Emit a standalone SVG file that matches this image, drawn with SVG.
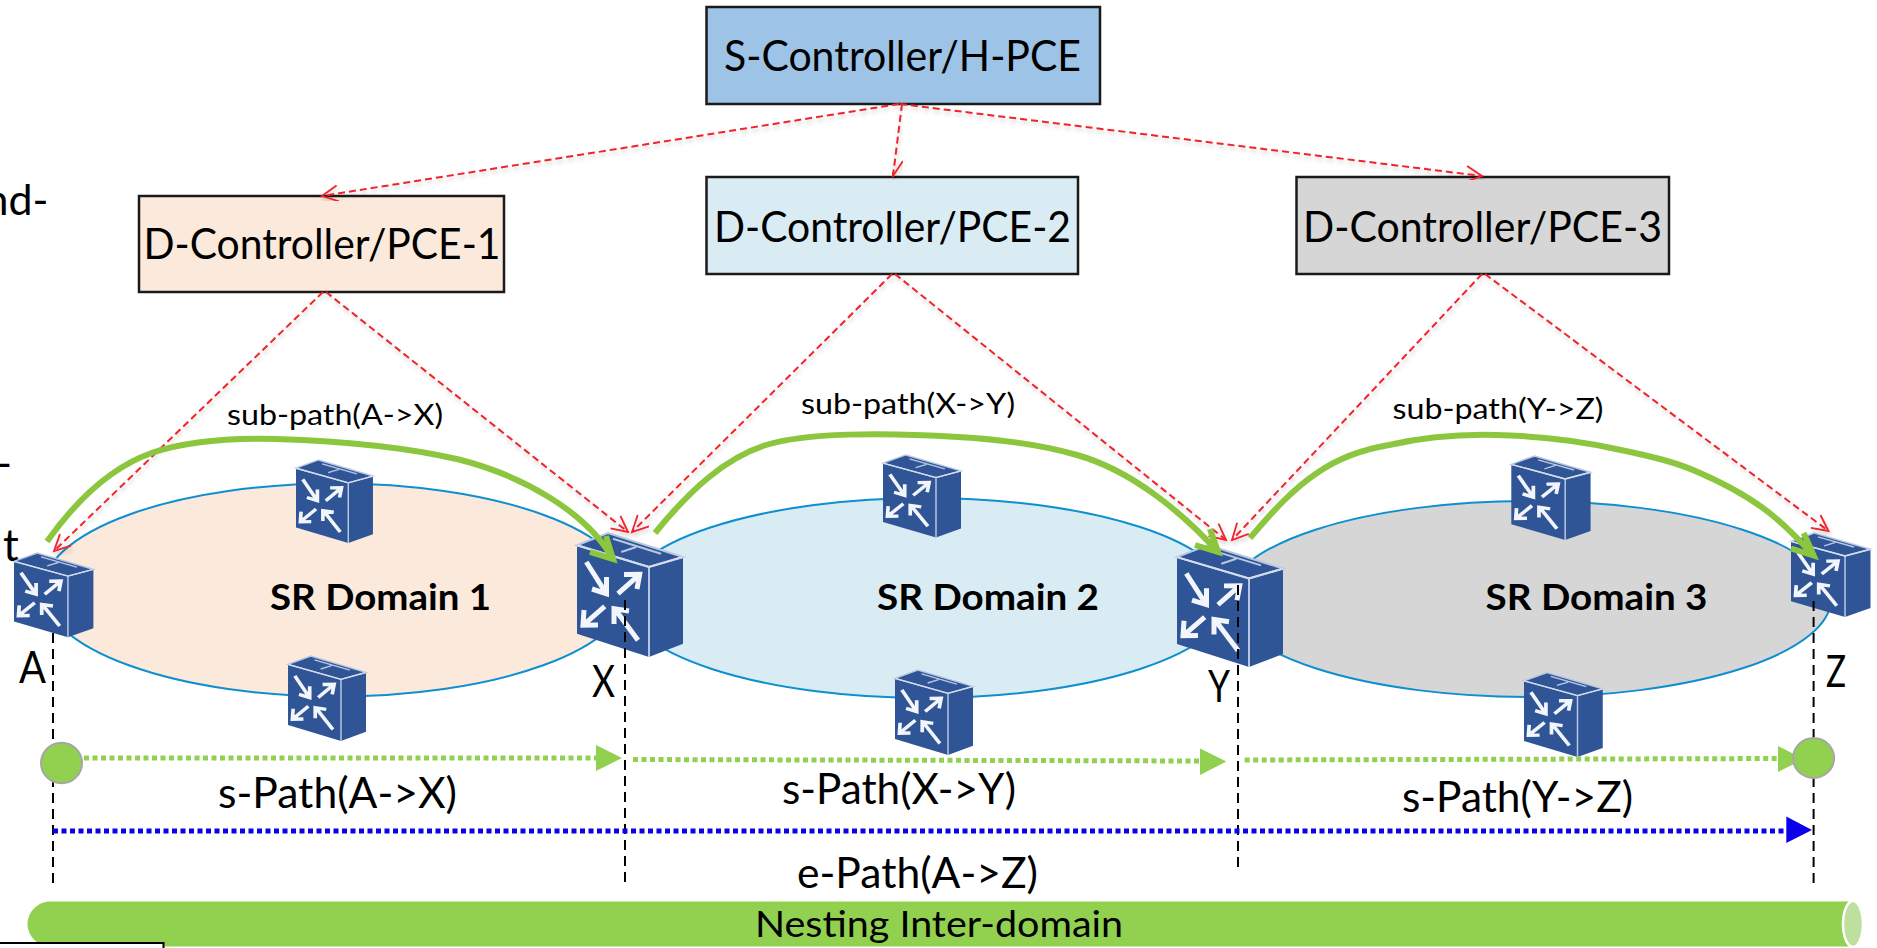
<svg xmlns="http://www.w3.org/2000/svg" width="1877" height="948" viewBox="0 0 1877 948">
<style>
text{font-family:Lato,"Open Sans","Liberation Sans",sans-serif;fill:#000}
.box{stroke:#1a1a1a;stroke-width:2.5}
.dom{stroke:#0d8fd0;stroke-width:2}
.t40{font-size:43px}.t38{font-size:42px}.t25{font-size:28px}.t41{font-size:44px}.t33{font-size:37px}
.b{font-size:37px;font-weight:700}
.red{fill:none;stroke:#f0242c;stroke-width:2;stroke-dasharray:7 4;marker-end:url(#redHead);filter:url(#sh)}
.arc{fill:none;stroke:#8cc63f;stroke-width:6}
.tick{fill:none;stroke:#000;stroke-width:2;stroke-dasharray:10 6}
.gd{fill:none;stroke:#92d050;stroke-width:5;stroke-dasharray:5 3.5}
.bd{fill:none;stroke:#0a00ea;stroke-width:5;stroke-dasharray:5 3.5}
</style>
<defs>
<filter id="sh" x="-5%" y="-5%" width="110%" height="110%"><feDropShadow dx="1" dy="3" stdDeviation="2" flood-color="#000" flood-opacity="0.2"/></filter>
<marker id="redHead" markerUnits="userSpaceOnUse" markerWidth="24" markerHeight="24" refX="20" refY="12" orient="auto"><path d="M4 4L20 12L4 20" fill="none" stroke="#f0242c" stroke-width="1.8" /></marker>
<g id="router">
<path d="M31 0L106 24V110.700L72 124L0 100.700V12.300Z" fill="#2f5597"/>
<path d="M0 12.300L31 0L106 24L72 34ZM72 34V124" fill="none" stroke="#b9c7e2" stroke-width="2"/>
<path d="M0 12.300L72 34L106 24" fill="none" stroke="#d5dded" stroke-width="2"/>
<path d="M36 5.700L84 20.700M59.300 14L44.300 19" fill="none" stroke="#b9c7e2" stroke-width="2"/>
<path d="M9.300 29L29.300 60.700M29.500 44V60.700L15 56M41 60.700L62.700 41.300M47 41.500L62.700 41.300L60 56M27.700 73.300L6 92.300M7 77L6 92.300L21 92M61 107.300L37.700 75.700M37 91V75.700L52 78" fill="none" stroke="#f2f5fb" stroke-width="5"/>
</g>
</defs>
<rect width="1877" height="948" fill="#fff"/>

<g id="cropped-text">
<text class="t40" x="48.500" y="215" text-anchor="end">nd-</text>
<text class="t40" x="12" y="478" text-anchor="end">-</text>
<text class="t41" x="3" y="561">t</text>
</g>

<g id="domain-1"><ellipse class="dom" cx="336" cy="590" rx="293" ry="106.500" fill="#fbe9db"/><text class="b" x="270" y="610" textLength="221" lengthAdjust="spacingAndGlyphs">SR Domain 1</text></g>
<g id="domain-2"><ellipse class="dom" cx="926" cy="598" rx="304" ry="100" fill="#daecf3"/><text class="b" x="877" y="610" textLength="222" lengthAdjust="spacingAndGlyphs">SR Domain 2</text></g>
<g id="domain-3"><ellipse class="dom" cx="1529" cy="599" rx="302" ry="98" fill="#d6d6d6"/><text class="b" x="1485.500" y="610" textLength="222" lengthAdjust="spacingAndGlyphs">SR Domain 3</text></g>

<g id="s-controller"><rect class="box" x="706.500" y="7" width="393.500" height="97" fill="#9dc3e6"/><text class="t40" x="724" y="71" textLength="357" lengthAdjust="spacingAndGlyphs">S-Controller/H-PCE</text></g>
<g id="d-controller-1"><rect class="box" x="139" y="196" width="365" height="96" fill="#fbe9db"/><text class="t40" x="143.500" y="259" textLength="357" lengthAdjust="spacingAndGlyphs">D-Controller/PCE-1</text></g>
<g id="d-controller-2"><rect class="box" x="706.500" y="177" width="371.500" height="97" fill="#daecf3"/><text class="t40" x="714" y="241.500" textLength="357" lengthAdjust="spacingAndGlyphs">D-Controller/PCE-2</text></g>
<g id="d-controller-3"><rect class="box" x="1296.500" y="177" width="372.500" height="97" fill="#d6d6d6"/><text class="t40" x="1303" y="241.500" textLength="359" lengthAdjust="spacingAndGlyphs">D-Controller/PCE-3</text></g>

<g id="router-a"><use href="#router" transform="translate(14,553) scale(.749,.68)"/></g>
<g id="router-1t"><use href="#router" transform="translate(296,460) scale(.726,.67)"/></g>
<g id="router-1b"><use href="#router" transform="translate(288,656) scale(.736,.685)"/></g>
<g id="router-x"><use href="#router" transform="translate(577,533)"/></g>
<g id="router-2t"><use href="#router" transform="translate(883,455) scale(.736,.665)"/></g>
<g id="router-2b"><use href="#router" transform="translate(895,670) scale(.736,.685)"/></g>
<g id="router-y"><use href="#router" transform="translate(1177,545) scale(1,.984)"/></g>
<g id="router-3t"><use href="#router" transform="translate(1511.300,456) scale(.748,.677)"/></g>
<g id="router-3b"><use href="#router" transform="translate(1524,672.500) scale(.743,.681)"/></g>
<g id="router-z"><use href="#router" transform="translate(1791,533) scale(.75,.677)"/></g>

<g id="connectors">
<path class="red" d="M899 104L322 196"/>
<path class="red" d="M902 104L893 176"/>
<path class="red" d="M900 104L1482 176"/>
<path class="red" d="M323 292L54 551"/>
<path class="red" d="M326 292L628 532"/>
<path class="red" d="M892 274L632 532"/>
<path class="red" d="M895 274L1226 540"/>
<path class="red" d="M1482 274L1232 540"/>
<path class="red" d="M1485 274L1828.500 531"/>

<path class="arc" d="M47 541.500C80 495 115 466 151.500 453C190 440 235 438 275.500 439C340 441 405 447 459 459.500C520 475 585 510 613 559M606 536L613 559L590 552"/>
<path class="arc" d="M655 533C690 490 725 458 766 445C805 433 880 432 958 437C1010 440 1050 447 1077 455C1130 470 1180 510 1218 552M1210 529L1218 552L1195 545"/>
<path class="arc" d="M1250 538C1272 512 1293 489 1317 473C1340 457 1365 449 1389 445C1425 437 1460 434 1496 435C1540 436 1580 441 1616 449C1650 456 1676 462 1700 473C1725 484 1750 497 1772 515C1788 528 1802 543 1813.600 555.500M1803.700 533L1813.600 555.500L1791 548.500"/>

<path class="tick" d="M53 633V886M625 600V886M1238 585V872M1813.600 601V888"/>

<path class="gd" d="M84 758H596"/><path d="M596 745L622 758L596 771Z" fill="#92d050"/>
<path class="gd" d="M633 759.500L1200 761"/><path d="M1200 748.500L1226.400 761.500L1200 775Z" fill="#92d050"/>
<path class="gd" d="M1244.700 760L1779 758.500"/><path d="M1778 746L1803.700 759L1778 772Z" fill="#92d050"/>
<path class="bd" d="M53 831H1787"/><path d="M1786.300 816.500L1812 830L1786.300 843Z" fill="#0a00ea"/>
</g>

<g id="endpoint-a"><ellipse cx="61.500" cy="763" rx="20.500" ry="20.300" fill="#92d050" stroke="#a6a6a6" stroke-width="2"/></g>
<g id="endpoint-z"><ellipse cx="1813.600" cy="758" rx="20.500" ry="20" fill="#92d050" stroke="#a6a6a6" stroke-width="2"/></g>

<g id="labels">
<text class="t25" x="227" y="425" textLength="216" lengthAdjust="spacingAndGlyphs">sub-path(A-&gt;X)</text>
<text class="t25" x="801" y="414" textLength="214" lengthAdjust="spacingAndGlyphs">sub-path(X-&gt;Y)</text>
<text class="t25" x="1392.500" y="419" textLength="211" lengthAdjust="spacingAndGlyphs">sub-path(Y-&gt;Z)</text>
<text class="t41" x="19" y="683" textLength="27" lengthAdjust="spacingAndGlyphs">A</text>
<text class="t41" x="592" y="697" textLength="23" lengthAdjust="spacingAndGlyphs">X</text>
<text class="t41" x="1208" y="702" textLength="22" lengthAdjust="spacingAndGlyphs">Y</text>
<text class="t41" x="1826" y="686.500" textLength="20" lengthAdjust="spacingAndGlyphs">Z</text>
<text class="t38" x="218" y="808" textLength="239" lengthAdjust="spacingAndGlyphs">s-Path(A-&gt;X)</text>
<text class="t38" x="782" y="804" textLength="234" lengthAdjust="spacingAndGlyphs">s-Path(X-&gt;Y)</text>
<text class="t38" x="1402" y="812" textLength="231" lengthAdjust="spacingAndGlyphs">s-Path(Y-&gt;Z)</text>
<text class="t38" x="797" y="888" textLength="241" lengthAdjust="spacingAndGlyphs">e-Path(A-&gt;Z)</text>
</g>

<g id="nesting-bar">
<path d="M50 901.500H1853V946.500H50C38 946.500 27.500 936 27.500 924C27.500 912 38 901.500 50 901.500Z" fill="#92d050"/>
<ellipse cx="1853" cy="924" rx="10" ry="23" fill="#bfdf9e" stroke="#fff" stroke-width="2.500"/>
<text class="t33" x="755" y="936.500" textLength="368" lengthAdjust="spacingAndGlyphs">Nesting Inter-domain</text>
</g>
<rect id="cropped-box" x="-3" y="943" width="166.500" height="10" fill="#fff" stroke="#000" stroke-width="2"/>
</svg>
